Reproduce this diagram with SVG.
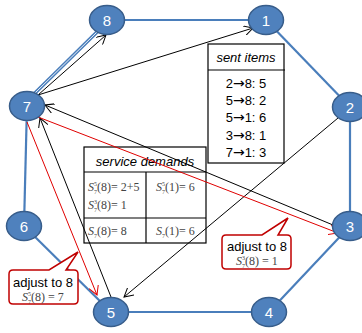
<svg xmlns="http://www.w3.org/2000/svg" width="362" height="333" viewBox="0 0 362 333">
<style>
.edge{stroke:#4A7EBB;stroke-width:2.2;fill:none}
.node ellipse{fill:#4F81BD;stroke:#385D8A;stroke-width:1.5}
.node text{fill:#fff;font-family:"Liberation Sans",Arial,sans-serif;font-size:15px;text-anchor:middle}
.arr{stroke:#000;stroke-width:1;fill:none;marker-end:url(#ah)}
.rarr{stroke:#E00000;stroke-width:1;fill:none;marker-end:url(#rah)}
.box{fill:#fff;stroke:#000;stroke-width:1.2}
.lbl{font-family:"Liberation Sans",Arial,sans-serif;font-size:13px;fill:#000}
.ar{font-family:"DejaVu Sans",sans-serif;font-size:14px}
.math{font-family:"Liberation Serif","Times New Roman",serif;font-size:12px;fill:#444}
.call{fill:#fff;stroke:#C00000;stroke-width:1.5}
</style>
<defs>
<marker id="ah" viewBox="0 0 10 10" refX="9" refY="5" markerWidth="10" markerHeight="10" markerUnits="userSpaceOnUse" orient="auto">
<path d="M0,0 L9,5 L0,10" fill="none" stroke="#000" stroke-width="1"/>
</marker>
<marker id="rah" viewBox="0 0 10 10" refX="9" refY="5" markerWidth="10" markerHeight="10" markerUnits="userSpaceOnUse" orient="auto">
<path d="M0,0 L9,5 L0,10" fill="none" stroke="#E00000" stroke-width="1"/>
</marker>
</defs>
<g id="edges">
<line class="edge" x1="107" y1="20" x2="266" y2="20"/>
<line class="edge" x1="266" y1="20" x2="350" y2="107"/>
<line class="edge" x1="350" y1="107" x2="350" y2="226"/>
<line class="edge" x1="350" y1="226" x2="269" y2="312"/>
<line class="edge" x1="269" y1="312" x2="111" y2="312"/>
<line class="edge" x1="111" y1="312" x2="24" y2="226"/>
<line class="edge" x1="24" y1="226" x2="27" y2="105"/>
<line x1="34" y1="94" x2="98" y2="31" stroke="#4A7EBB" stroke-width="3.6"/>
<line x1="34" y1="94" x2="98" y2="31" stroke="#fff" stroke-width="0.9"/>
</g>
<g id="sent-items">
<rect class="box" x="208" y="44" width="76" height="119"/>
<line x1="208" y1="70" x2="285" y2="70" stroke="#000" stroke-width="1.2"/>
<text class="lbl" x="246" y="62" text-anchor="middle" font-style="italic" font-size="14">sent items</text>
<text class="lbl" x="246" y="88" text-anchor="middle">2<tspan class="ar">→</tspan>8:  5</text>
<text class="lbl" x="246" y="105" text-anchor="middle">5<tspan class="ar">→</tspan>8:  2</text>
<text class="lbl" x="246" y="122" text-anchor="middle">5<tspan class="ar">→</tspan>1:  6</text>
<text class="lbl" x="246" y="140" text-anchor="middle">3<tspan class="ar">→</tspan>8:  1</text>
<text class="lbl" x="246" y="157" text-anchor="middle">7<tspan class="ar">→</tspan>1:  3</text>
</g>
<g id="service-demands">
<rect class="box" x="84" y="147" width="122" height="96"/>
<line x1="84" y1="172" x2="206" y2="172" stroke="#000" stroke-width="1.2"/>
<line x1="84" y1="218" x2="206" y2="218" stroke="#000" stroke-width="1.2"/>
<line x1="146" y1="172" x2="146" y2="243" stroke="#000" stroke-width="1.2"/>
<text class="lbl" x="145" y="166" text-anchor="middle" font-style="italic" font-size="15">service demands</text>
<text class="math" x="88" y="191"><tspan font-style="italic">S</tspan><tspan font-size="6" dy="-5">5</tspan><tspan font-size="6" dx="-3" dy="8">7</tspan><tspan dy="-3">(8)= 2+5</tspan></text>
<text class="math" x="88" y="209"><tspan font-style="italic">S</tspan><tspan font-size="6" dy="-5">3</tspan><tspan font-size="6" dx="-3" dy="8">7</tspan><tspan dy="-3">(8)= 1</tspan></text>
<text class="math" x="156" y="191"><tspan font-style="italic">S</tspan><tspan font-size="6" dy="-5">5</tspan><tspan font-size="6" dx="-3" dy="8">7</tspan><tspan dy="-3">(1)= 6</tspan></text>
<text class="math" x="88" y="235"><tspan font-style="italic">S</tspan><tspan font-size="6" dy="3">7</tspan><tspan dy="-3">(8)= 8</tspan></text>
<text class="math" x="156" y="235"><tspan font-style="italic">S</tspan><tspan font-size="6" dy="3">7</tspan><tspan dy="-3">(1)= 6</tspan></text>
</g>
<g id="connectors">
<line class="arr" x1="38" y1="95" x2="106" y2="35"/>
<line class="arr" x1="38" y1="95" x2="253" y2="28"/>
<line class="arr" x1="333" y1="225" x2="45" y2="105"/>
<line class="arr" x1="338" y1="118" x2="124" y2="297"/>
<line class="arr" x1="111" y1="297" x2="40" y2="118"/>
<line class="rarr" x1="38" y1="117" x2="338" y2="233"/>
<line class="rarr" x1="27" y1="122" x2="97" y2="295"/>
</g>
<g id="n8" class="node"><ellipse cx="107" cy="20" rx="17.5" ry="14.5"/><text x="107" y="25.5">8</text></g>
<g id="n1" class="node"><ellipse cx="266" cy="20" rx="17.5" ry="14.5"/><text x="266" y="25.5">1</text></g>
<g id="n2" class="node"><ellipse cx="350" cy="107" rx="17.5" ry="14.5"/><text x="350" y="112.5">2</text></g>
<g id="n3" class="node"><ellipse cx="350" cy="226" rx="17.5" ry="14.5"/><text x="350" y="231.5">3</text></g>
<g id="n4" class="node"><ellipse cx="269" cy="312" rx="17.5" ry="14.5"/><text x="269" y="317.5">4</text></g>
<g id="n5" class="node"><ellipse cx="111" cy="312" rx="17.5" ry="14.5"/><text x="111" y="317.5">5</text></g>
<g id="n6" class="node"><ellipse cx="24" cy="226" rx="17.5" ry="14.5"/><text x="24" y="231.5">6</text></g>
<g id="n7" class="node"><ellipse cx="27" cy="106" rx="17.5" ry="14.5"/><text x="27" y="111.5">7</text></g>
<g id="callout-left">
<path class="call" d="M13,270 L49,270 L78,252 L66,270 L74,270 Q78,270 78,274 L78,300 Q78,304 74,304 L13,304 Q9,304 9,300 L9,274 Q9,270 13,270 Z"/>
<text class="lbl" x="43" y="287" text-anchor="middle" font-size="14">adjust to 8</text>
<text class="math" x="43" y="301" text-anchor="middle"><tspan font-style="italic">S</tspan><tspan font-size="6" dy="-5">5</tspan><tspan font-size="6" dx="-3" dy="8">7</tspan><tspan dy="-3">(8) = 7</tspan></text>
</g>
<g id="callout-right">
<path class="call" d="M226,235 L262,235 L288,218 L278,235 L287,235 Q291,235 291,239 L291,265 Q291,269 287,269 L226,269 Q222,269 222,265 L222,239 Q222,235 226,235 Z"/>
<text class="lbl" x="257" y="251" text-anchor="middle" font-size="14">adjust to 8</text>
<text class="math" x="257" y="265" text-anchor="middle"><tspan font-style="italic">S</tspan><tspan font-size="6" dy="-5">3</tspan><tspan font-size="6" dx="-3" dy="8">7</tspan><tspan dy="-3">(8) = 1</tspan></text>
</g>
</svg>
